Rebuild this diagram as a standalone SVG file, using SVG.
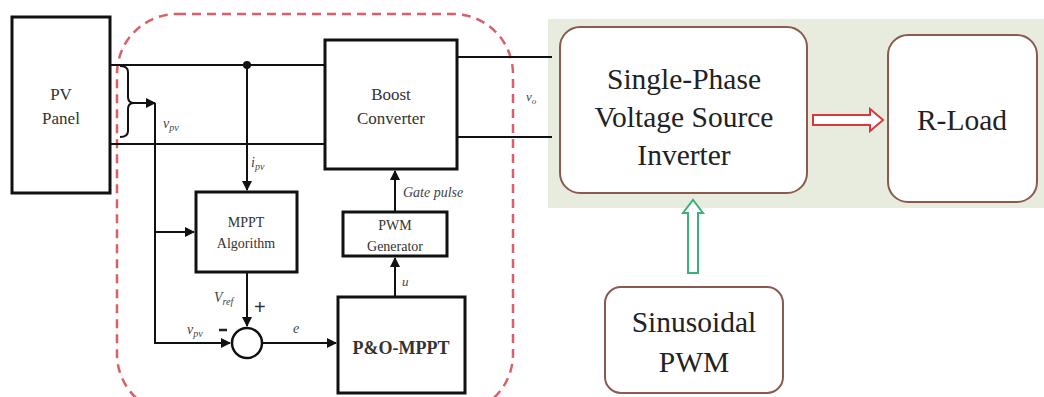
<svg xmlns="http://www.w3.org/2000/svg" width="1044" height="397" viewBox="0 0 1044 397">
<defs>
<style>
.blk{fill:#fff;stroke:#111;stroke-width:3}
.w{fill:none;stroke:#111;stroke-width:2}
.t{font-family:'Liberation Serif','Times New Roman',serif;fill:#333;text-anchor:middle}
.i{font-family:'Liberation Serif','Times New Roman',serif;font-style:italic;fill:#444}
.rb{fill:#fff;stroke:#8a5a4e;stroke-width:2}
.big{font-family:'Liberation Serif','Times New Roman',serif;fill:#222;text-anchor:middle;font-size:29.5px}
</style>
<marker id="ah" markerWidth="10" markerHeight="10" refX="9" refY="5" orient="auto" markerUnits="userSpaceOnUse">
<path d="M0,0 L10,5 L0,10 z" fill="#111"/>
</marker>
</defs>
<rect width="1044" height="397" fill="#fff"/>
<rect x="548" y="19" width="496" height="189" fill="#e7ecdf"/>
<rect x="117" y="14" width="396" height="400" rx="60" ry="60" fill="none" stroke="#d9606a" stroke-width="2.5" stroke-dasharray="9,6"/>
<g id="connectors">
<path class="w" d="M110,65 H325 M110,144 H325"/>
<circle cx="247" cy="65" r="4" fill="#111"/>
<path class="w" d="M247,65 V190" marker-end="url(#ah)"/>
<path class="w" d="M120,66 Q128,66 128,72 V97 Q128,103 134,103 Q128,103 128,109 V131 Q128,137 120,137"/>
<path class="w" d="M134,103 H155" marker-end="url(#ah)"/>
<path class="w" d="M155,103 V343 H230" marker-end="url(#ah)"/>
<path class="w" d="M155,232 H194" marker-end="url(#ah)"/>
<path class="w" d="M247,272 V326" marker-end="url(#ah)"/>
<circle cx="247" cy="343" r="15" fill="#fff" stroke="#111" stroke-width="2.5"/>
<path class="w" d="M262,343 H336" marker-end="url(#ah)"/>
<path class="w" d="M395,297 V258" marker-end="url(#ah)"/>
<path class="w" d="M395,212 V171" marker-end="url(#ah)"/>
<path class="w" d="M457,57 H552 M457,137 H552"/>
<path d="M813,115 H870 V109 L883,120 L870,131 V125 H813 z" fill="#fff" stroke="#d83a3a" stroke-width="2"/>
<path d="M688,273 V213 H683 L693,200 L703,213 H698 V273 z" fill="#fff" stroke="#3bb27a" stroke-width="2"/>
</g>
<g id="pv"><rect class="blk" x="12" y="17" width="98" height="176"/>
<text class="t" x="61" y="100" font-size="17">PV</text><text class="t" x="61" y="124" font-size="17">Panel</text></g>
<g id="boost"><rect class="blk" x="325" y="40" width="132" height="129"/>
<text class="t" x="391" y="100" font-size="17">Boost</text><text class="t" x="391" y="124" font-size="17">Converter</text></g>
<g id="mppt"><rect class="blk" x="196" y="192" width="101" height="80"/>
<text class="t" x="246" y="227" font-size="14">MPPT</text><text class="t" x="246" y="248" font-size="14">Algorithm</text></g>
<g id="pwm"><rect class="blk" x="343" y="212" width="104" height="44"/>
<text class="t" x="395" y="230" font-size="14">PWM</text><text class="t" x="395" y="251" font-size="14">Generator</text></g>
<g id="po"><rect class="blk" x="338" y="297" width="127" height="96"/>
<text class="t" x="401" y="354" font-size="18" font-weight="bold" fill="#111">P&amp;O-MPPT</text></g>
<g id="labels">
<text class="i" x="163" y="128" font-size="14">v<tspan font-size="10" dy="3">pv</tspan></text>
<text class="i" x="251" y="167" font-size="14">i<tspan font-size="10" dy="3">pv</tspan></text>
<text class="i" x="214" y="302" font-size="14">V<tspan font-size="10" dy="3">ref</tspan></text>
<text x="254" y="314" font-family="'Liberation Sans',sans-serif" font-size="20" fill="#333">+</text>
<path d="M219,330 H227" stroke="#222" stroke-width="2.5"/>
<text class="i" x="187" y="334" font-size="14">v<tspan font-size="10" dy="3">pv</tspan></text>
<text class="i" x="293" y="333" font-size="14">e</text>
<text class="i" x="402" y="286" font-size="13">u</text>
<text class="i" x="403" y="197" font-size="14">Gate pulse</text>
<text class="i" x="526" y="101" font-size="13">v<tspan font-size="9" dy="3">o</tspan></text>
</g>
<g id="inverter"><rect class="rb" x="560" y="27" width="247" height="166" rx="20"/>
<text class="big" x="684" y="89">Single-Phase</text><text class="big" x="684" y="127">Voltage Source</text><text class="big" x="684" y="165">Inverter</text></g>
<g id="rload"><rect class="rb" x="888" y="35" width="149" height="167" rx="20"/>
<text class="big" x="962" y="130">R-Load</text></g>
<g id="spwm"><rect class="rb" x="605" y="287" width="178" height="106" rx="16"/>
<text class="big" x="694" y="332">Sinusoidal</text><text class="big" x="694" y="372">PWM</text></g>
</svg>
